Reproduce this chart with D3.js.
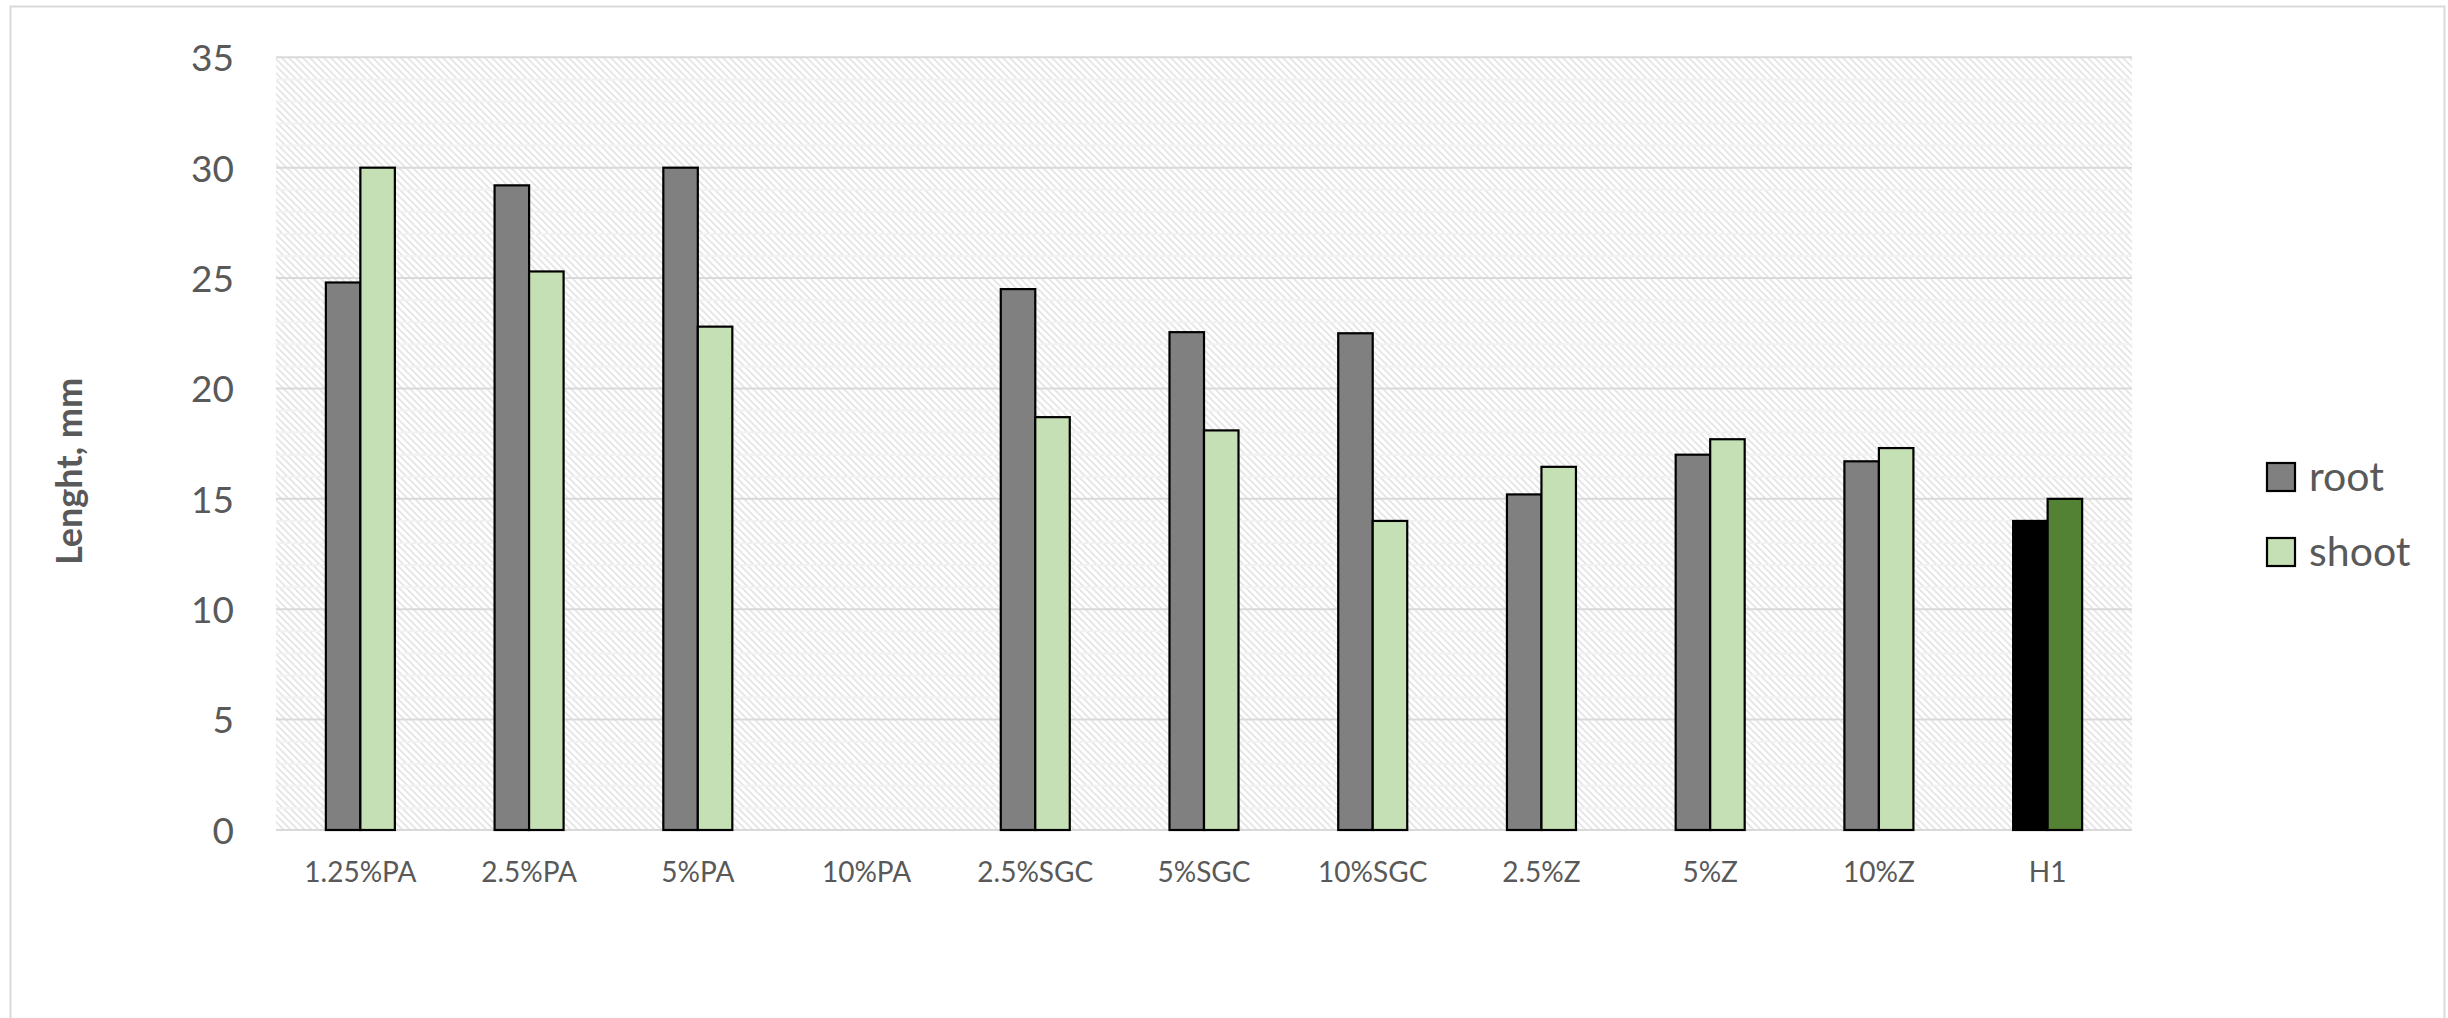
<!DOCTYPE html>
<html>
<head>
<meta charset="utf-8">
<script src="https://cdn.jsdelivr.net/npm/d3@7"></script>
<style>
  html, body { margin: 0; padding: 0; background: #ffffff; }
  svg { display: block; }
  text { font-family: Lato, "Open Sans", sans-serif; fill: #595959; }
</style>
</head>
<body>
<svg id="chart" width="2448" height="1018"></svg>
<script>
// ---- data ----
const categories = ["1.25%PA", "2.5%PA", "5%PA", "10%PA", "2.5%SGC", "5%SGC", "10%SGC", "2.5%Z", "5%Z", "10%Z", "H1"];
const seriesNames = ["root", "shoot"];
const rootValues  = [24.8, 29.2, 30.0, 0, 24.5, 22.55, 22.5, 15.2, 17.0, 16.7, 14.0];
const shootValues = [30.0, 25.3, 22.8, 0, 18.7, 18.1, 14.0, 16.45, 17.7, 17.3, 15.0];
const yTicks = [0, 5, 10, 15, 20, 25, 30, 35];
const yTitle = "Lenght, mm";
const seriesColors = ["#808080", "#c5e0b4"];
const highlightCategory = "H1";
const highlightColors = ["#000000", "#548235"];

// ---- layout ----
const W = 2448, H = 1018;
const plot = { left: 276, right: 2132, top: 57.3, bottom: 830 };

const svg = d3.select("#chart");

// pattern for plot background
const defs = svg.append("defs");
const pat = defs.append("pattern")
  .attr("id", "hatch").attr("patternUnits", "userSpaceOnUse")
  .attr("width", 7).attr("height", 7);
pat.append("rect").attr("width", 7).attr("height", 7).attr("fill", "#ffffff");
pat.append("path").attr("d", "M-1,-1 L8,8 M-1,6 L1,8 M6,-1 L8,1")
  .attr("stroke", "#e4e4e4").attr("stroke-width", 1.6);

// outer frame
svg.append("rect")
  .attr("x", 10.5).attr("y", 6.5).attr("width", 2434).attr("height", 1100)
  .attr("fill", "#ffffff").attr("stroke", "#d9d9d9").attr("stroke-width", 2);

const x = d3.scaleBand().domain(categories).range([plot.left, plot.right]).padding(0);
const xInner = d3.scaleBand().domain(seriesNames).range([0, x.bandwidth()])
  .paddingInner(0).paddingOuter(1.445);
const y = d3.scaleLinear().domain([0, 35]).range([plot.bottom, plot.top]);

// plot background
svg.append("rect")
  .attr("x", plot.left).attr("y", plot.top)
  .attr("width", plot.right - plot.left).attr("height", plot.bottom - plot.top)
  .attr("fill", "url(#hatch)");

// minor gridlines
const minor = d3.range(0, 36).filter(v => v % 5 !== 0);
svg.append("g").selectAll("line").data(minor).join("line")
  .attr("x1", plot.left).attr("x2", plot.right)
  .attr("y1", d => y(d)).attr("y2", d => y(d))
  .attr("stroke", "#f2f2f2").attr("stroke-width", 2);

// major gridlines
svg.append("g").selectAll("line").data(yTicks).join("line")
  .attr("x1", plot.left).attr("x2", plot.right)
  .attr("y1", d => y(d)).attr("y2", d => y(d))
  .attr("stroke", "#d9d9d9").attr("stroke-width", 2);

// y axis labels
const yAxis = d3.axisLeft(y).tickValues(yTicks).tickSize(0).tickPadding(0);
const gy = svg.append("g").attr("transform", `translate(${234},0)`).call(yAxis);
gy.select(".domain").remove();
gy.selectAll("text")
  .attr("font-size", 37).attr("fill", "#595959")
  .style("font-family", "Lato, sans-serif")
  .attr("x", 0).attr("dy", "0.36em");

// x axis labels
const xAxis = d3.axisBottom(x).tickSize(0).tickPadding(0);
const gx = svg.append("g").attr("transform", `translate(0,${882})`).call(xAxis);
gx.select(".domain").remove();
gx.selectAll("text")
  .attr("font-size", 28).attr("fill", "#595959")
  .style("font-family", "Lato, sans-serif")
  .attr("y", 0).attr("dy", 0);

// bars
const rows = categories.map((c, i) => ({ cat: c, values: [rootValues[i], shootValues[i]] }));
const bars = [];
rows.forEach(r => r.values.forEach((v, j) => {
  if (v > 0) bars.push({ cat: r.cat, series: seriesNames[j], idx: j, value: v });
}));
svg.append("g").selectAll("rect").data(bars).join("rect")
  .attr("x", d => x(d.cat) + xInner(d.series))
  .attr("width", xInner.bandwidth())
  .attr("y", d => y(d.value))
  .attr("height", d => y(0) - y(d.value))
  .attr("fill", d => d.cat === highlightCategory ? highlightColors[d.idx] : seriesColors[d.idx])
  .attr("stroke", "#000000").attr("stroke-width", 2.2);

// y axis title
svg.append("text")
  .attr("transform", `translate(82,471.5) rotate(-90)`)
  .attr("text-anchor", "middle")
  .attr("font-size", 36).attr("font-weight", "bold")
  .attr("fill", "#595959")
  .text(yTitle);

// legend
const legend = svg.append("g");
const legendY = [463, 538];
seriesNames.forEach((s, i) => {
  legend.append("rect")
    .attr("x", 2267).attr("y", legendY[i]).attr("width", 28).attr("height", 28)
    .attr("fill", seriesColors[i]).attr("stroke", "#000000").attr("stroke-width", 2.2);
  legend.append("text")
    .attr("x", 2309).attr("y", legendY[i] + 28)
    .attr("font-size", 41).attr("fill", "#595959")
    .text(s);
});
</script>
</body>
</html>
